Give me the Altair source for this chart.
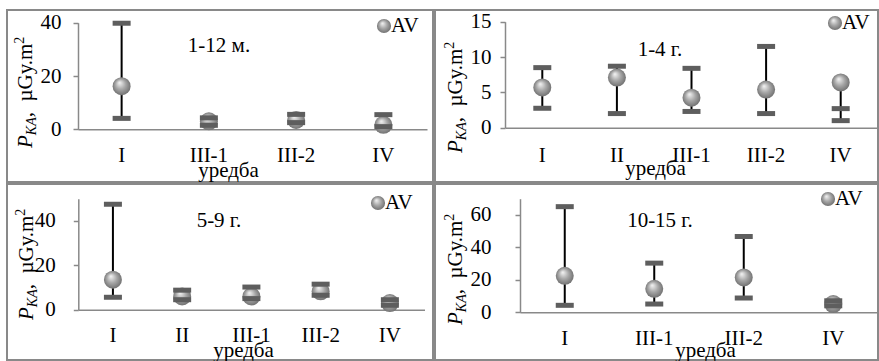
import altair as alt
import pandas as pd

FONT = "Liberation Serif"

# ---------------- data ----------------
# Panel 1: 1-12 м.
p1_cats = ["I", "III-1", "III-2", "IV"]
p1_av = [16.2, 3.0, 3.5, 1.7]
p1_lower = [4.1, 1.5, 2.5, 1.0]
p1_upper = [39.8, 4.3, 5.6, 5.5]

# Panel 2: 1-4 г.
p2_cats = ["I", "II", "III-1", "III-2", "IV"]
p2_av = [5.7, 7.1, 4.25, 5.4, 6.4]
p2_lower = [2.75, 2.0, 2.3, 2.0, 1.0]
p2_upper = [8.5, 8.7, 8.4, 11.5, 2.7]

# Panel 3: 5-9 г.
p3_cats = ["I", "II", "III-1", "III-2", "IV"]
p3_av = [13.5, 6.0, 6.0, 8.3, 3.0]
p3_lower = [5.6, 4.5, 5.0, 6.5, 2.0]
p3_upper = [47.5, 8.8, 10.2, 11.5, 4.5]

# Panel 4: 10-15 г.
p4_cats = ["I", "III-1", "III-2", "IV"]
p4_av = [22.5, 14.5, 21.5, 5.1]
p4_lower = [4.3, 5.1, 8.8, 4.0]
p4_upper = [65.1, 30.3, 46.7, 7.1]

panel_labels = ["1-12 м.", "1-4 г.", "5-9 г.", "10-15 г."]
y_max = [40, 15, 50, 70]
y_ticks = [[0, 20, 40], [0, 5, 10, 15], [0, 20, 40], [0, 20, 40, 60]]
x_title = "уредба"
legend_label = "AV"

# ---------------- styling helpers ----------------
SPHERE = {
    "gradient": "radial",
    "x1": 0.38, "y1": 0.3, "r1": 0.0,
    "x2": 0.5, "y2": 0.5, "r2": 0.55,
    "stops": [
        {"offset": 0.0, "color": "#f6f6f6"},
        {"offset": 0.5, "color": "#a8a8a8"},
        {"offset": 1.0, "color": "#6a6a6a"},
    ],
}
GRAY = "#898989"
FS = 21


def text_layer(txt, x, y, **kw):
    return alt.Chart(alt.Data(values=[{"t": txt}])).mark_text(font=FONT, color="black", **kw).encode(
        text="t:N", x=alt.value(x), y=alt.value(y)
    )


def ytitle(bx, y0, fs=21, fss=14):
    wP = 0.611 * fs
    wKA = 1.278 * fss
    wMain = 3.5 * fs
    return [
        text_layer("P", bx, y0, angle=270, align="left", baseline="alphabetic", fontSize=fs, fontStyle="italic"),
        text_layer("KA", bx + 4, y0 - wP, angle=270, align="left", baseline="alphabetic", fontSize=fss, fontStyle="italic"),
        text_layer(",\u00a0\u00a0µGy.m", bx, y0 - wP - wKA, angle=270, align="left", baseline="alphabetic", fontSize=fs),
        text_layer("2", bx - 8, y0 - wP - wKA - wMain, angle=270, align="left", baseline="alphabetic", fontSize=fss),
    ]


def panel(cats, av, lower, upper, idx, W, H, ax_x, x_end, y0, ytop, ylp, xlp,
          lab_xy, leg_xy, xt_xy, yt_bx, yt_y0):
    df = pd.DataFrame({"cat": cats, "av": av, "lower": lower, "upper": upper})
    xs = alt.Scale(domain=cats, range=[ax_x, x_end], paddingInner=0, paddingOuter=0)
    ys = alt.Scale(domain=[0, y_max[idx]], range=[y0, ytop], nice=False, zero=True)
    xax = alt.Axis(
        title=x_title, titleX=xt_xy[0], titleY=xt_xy[1] - y0, titleAlign="center", titleBaseline="middle",
        titleFont=FONT, titleFontSize=FS, titleFontWeight="normal", titleColor="black",
        labelFont=FONT, labelFontSize=FS, labelColor="black", labelAngle=0, labelAlign="center",
        labelBaseline="middle", labelPadding=xlp, ticks=False, tickSize=0,
        domainColor=GRAY, domainWidth=1.5, grid=False, offset=-(H - y0),
    )
    yax = alt.Axis(
        title=None, values=y_ticks[idx], format="d",
        labelFont=FONT, labelFontSize=FS, labelColor="black", labelAlign="right",
        labelBaseline="middle", labelPadding=ylp, tickSize=5, tickColor=GRAY, tickWidth=1.5,
        domainColor=GRAY, domainWidth=1.5, grid=False, offset=-ax_x,
    )
    X = alt.X("cat:N", sort=cats, scale=xs, axis=xax)
    base = alt.Chart(df)
    rule = base.transform_calculate(
        lo="min(datum.av, datum.lower)", hi="max(datum.av, datum.upper)"
    ).mark_rule(color="black", strokeWidth=2).encode(
        x=X, y=alt.Y("lo:Q", scale=ys, axis=yax), y2="hi:Q"
    )
    sph = base.mark_circle(fill=SPHERE, size=324, opacity=1, strokeWidth=0).encode(
        x=X, y=alt.Y("av:Q", scale=ys, axis=yax)
    )
    caps = base.transform_fold(["lower", "upper"], as_=["which", "val"]).mark_tick(
        orient="horizontal", size=18, thickness=5, color="#5e5e5e", opacity=1
    ).encode(x=X, y=alt.Y("val:Q", scale=ys, axis=yax))
    label = text_layer(panel_labels[idx], lab_xy[0], lab_xy[1], fontSize=FS, align="center", baseline="middle")
    leg_s = alt.Chart(alt.Data(values=[{"t": 1}])).mark_circle(fill=SPHERE, size=200, opacity=1).encode(
        x=alt.value(leg_xy[0]), y=alt.value(leg_xy[1])
    )
    leg_t = text_layer(legend_label, leg_xy[0] + 7, leg_xy[1], fontSize=FS, align="left", baseline="middle")
    layers = [rule, sph, caps, label, leg_s, leg_t] + ytitle(yt_bx, yt_y0)
    return alt.layer(*layers).properties(width=W, height=H)


p1 = panel(p1_cats, p1_av, p1_lower, p1_upper, 0, 426, 172, 71, 420, 119.3, 12.7, 12, 26,
           (212, 36), (377, 16), (221, 160), 25, 138)
p2 = panel(p2_cats, p2_av, p2_lower, p2_upper, 1, 443, 172, 70, 443, 117.7, 11.7, 9, 28,
           (225, 40), (400, 13), (220, 158), 27, 143)
p3 = panel(p3_cats, p3_av, p3_lower, p3_upper, 2, 426, 176, 71.3, 417.5, 125.7, 14.7, 18, 26,
           (212, 37), (371, 19), (236, 166), 26, 136)
p4 = panel(p4_cats, p4_av, p4_lower, p4_upper, 3, 443, 176, 85, 443, 128.3, 14.7, 24, 26,
           (225, 37), (393, 15), (270, 166), 27, 141)

chart = alt.concat(p1, p2, p3, p4, columns=2, spacing=2, bounds="flush").properties(
    padding={"left": 6, "top": 9, "right": 0, "bottom": 0}, background="white"
).configure_view(stroke=GRAY, strokeWidth=2).resolve_scale(x="independent", y="independent")

chart.save("out.html", embed_options={"renderer": "svg", "actions": False})
